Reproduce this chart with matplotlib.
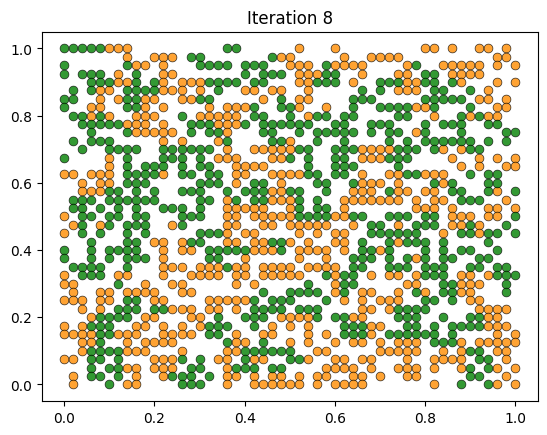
import matplotlib
matplotlib.use('Agg')
import matplotlib.pyplot as plt

# agent map, one char per cell
# columns: x = 0.00 .. 1.00 (51 cells), rows: y = 1.00 (top) .. 0.00 (41 cells)
# 'o' = orange agent, 'g' = green agent, '.' = empty spot
layout_rows = [
    "gggggooo...." + "......gg....." + ".o...o......." + "..oo.o..oo.o.",
    ".......o..oo" + "o.gg.......go" + "o.....o..oooo" + "..........oo.",
    "g......goo.o" + "...gggg.ggg.." + "ooo.goooo...." + "og..ooooo.o.o",
    "g.ggg.o.g..o" + "o.......g.ggg" + ".ooogg..o...o" + "o.gg.oooo....",
    "...gggoog.go" + ".ooogggg.gg.." + ".ooggg.o..ggg" + "oogg.go...o.o",
    ".g.goo.ggggo" + "oo.o.g..oo.oo" + "..o.....g.g.o" + "oo.gg..g.o...",
    "gg..o.oggoo." + ".oogg.....o.g" + ".oo....ggg..." + "..ggggg.oo.o.",
    "g..oo..ggo.o" + "....o.ooog..g" + "go..o..g..ggg" + "goog...g..oo.",
    ".ggogo..ooo." + ".g.ooooo.gg.." + "g.ogg.gg....g" + "g..o..gogoo..",
    "..gggggooo.o" + "..gggooog.ggg" + "ggg..gg..ggg." + "..g.ggg..gg..",
    "...g...goooo" + "o.g.ggo...gg." + ".g.ggggg.g.gg" + ".og...g....gg",
    ".g.ggg.....o" + ".o...og....gg" + "o..g..g....g." + "g.gggggg.g.g.",
    "..g..gggg..g" + "ggggg.o..oooo" + "ogg..gggoooog" + "gg.go.ogg....",
    "g....o.g...g" + "gg.g.ooo...oo" + "g.g..gg.ooogg" + "g....o..o.o.o",
    ".....o.g.ggg" + ".g.gg..oooo.." + "..g..ggg....g" + "......o.o..oo",
    "oo.ooo.ggggo" + ".gg.gg.oo..oo" + "oogg.gg.o..oo" + "ggooo..g.gg..",
    "..o.oo.ggg.." + "...ggg.o.gg.o" + "...gg..gooo.o" + "...gog...gg..",
    "..ooogg.g.g." + ".ggg..g.gggoo" + "gg..g..ooo.go" + "o.oo.gg..go.g",
    ".ggg.gggggg." + "...gg.og.ggoo" + "og.g..ooooooo" + ".o.oo.ggg..o.",
    ".gg.g.g.g..g" + "gg.g..ooooo.." + "og.gg.o......" + ".ooo.o...oo.o",
    "o.gg.gg.gg.." + ".ggg..oo.oooo" + "oggggoogg..gg" + "g.gg.ooo.oo.g",
    ".og.og.ggg.." + "og....oo..oo." + "ooooo..o.gg.o" + ".ggg.oogo..g.",
    "o.g.g..g.g.." + "...gggo.oo..." + ".o.o.oo..gggg" + "gg..o.ggogg.g",
    "...g...gg.oo" + ".ogg..oo.oogg" + "o.o..oo.g..go" + "ggg.g....g...",
    "g..g.gggg..o" + ".oo.gggggooog" + ".oooo.o.ggog." + "..g.g.gg..g..",
    "g..g.g.ggg.o" + "....gg..o...." + ".o..o..ggg.g." + "gog.gg..gg...",
    ".gggg..g...o" + "oo.ooogoo.ooo" + "o.oooo.gg..gg" + "g.ggg..gg.gg.",
    "o.ggg.oo...o" + "..oooo.oo.ooo" + "oo..gogg.o.oo" + ".oggg.oo.oggg",
    "oo....g..o.." + "oo.....o.o..." + "..g..ogg....." + "oo..ggooo..g.",
    ".o..oo.oooo." + ".oo.......g.." + "gggg.og.oo..o" + ".go.ggoo...g.",
    "ooo.oo.gg.oo" + "....ooooog.gg" + "g...g.o.o.ooo" + "..gg.g.oo....",
    "..o.o.ggg.gg" + "ooo.oo.o.gggg" + ".ggg....oo.og" + "ggg.....oooo.",
    "...ogggg.oo." + "..oo.g..ggg.o" + "ooog.ggoo...g" + "gg..g..ggoo..",
    "o.oggg..oo.o" + ".o.oggg..g.o." + "o.o...gggoo.." + "gg.g.ggggooo.",
    "ooooggooo..o" + "ooo.gg.o..oo." + "..o.o.gggo.gg" + "gggg.g....o.o",
    "..oog..o.ooo" + "o.....goo.g.." + "o.o..o.oo.o.o" + "oo.gggo.ooooo",
    "..oggggooo.." + ".o....ooggggg" + "g..oo.....ooo" + "oo..o.ogg.oo.",
    "oo.gg.g...oo" + "og.g.oo.goo.." + "ggo..oo.oo..." + "o..oooo.gg.o.",
    "...g.ggoo.oo" + "o.gg..oggg.gg" + "....oooo.o..o" + "oo.o..og.go.o",
    ".o.gg.g.o..o" + "ggg.g.oo.o.oo" + ".o.oo..oo.o.." + "oo.....gg..o.",
    ".o...g.oo..." + ".ggg..o..oooo" + "oo.o.oooo...." + "...o..g..go.o",
]

n_cols = 51
n_rows = len(layout_rows)

orange_x, orange_y = [], []
green_x, green_y = [], []
for r, row in enumerate(layout_rows):
    for c, ch in enumerate(row):
        x = c / (n_cols - 1)
        y = 1 - r / (n_rows - 1)
        if ch == 'o':
            orange_x.append(x)
            orange_y.append(y)
        elif ch == 'g':
            green_x.append(x)
            green_y.append(y)

fig, ax = plt.subplots(figsize=(6.4, 4.8))
ax.scatter(orange_x, orange_y, c='darkorange', edgecolors='black',
           linewidths=0.5, alpha=0.8, s=40)
ax.scatter(green_x, green_y, c='green', edgecolors='black',
           linewidths=0.5, alpha=0.8, s=40)
ax.set_title('Iteration 8')

fig.savefig('out.png', dpi=100, bbox_inches='tight')
plt.close('all')
